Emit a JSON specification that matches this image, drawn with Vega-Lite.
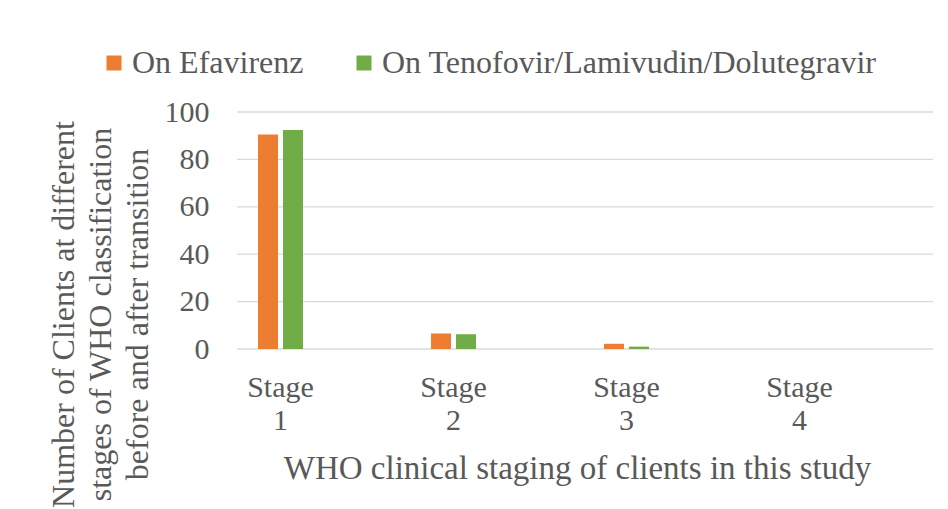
{
  "$schema": "https://vega.github.io/schema/vega-lite/v6.json",
  "width": 696,
  "height": 237,
  "autosize": "none",
  "padding": {"left": 237, "top": 112, "right": 15, "bottom": 160},
  "background": "white",
  "config": {
    "view": {"stroke": null},
    "font": "Liberation Serif",
    "style": {
      "guide-label": {"font": "Liberation Serif", "fill": "#595959"},
      "guide-title": {"font": "Liberation Serif", "fill": "#595959"}
    },
    "axis": {"labelFont": "Liberation Serif", "titleFont": "Liberation Serif", "labelColor": "#595959", "titleColor": "#595959", "titleFontWeight": "normal"},
    "legend": {"labelFont": "Liberation Serif", "titleFont": "Liberation Serif"}
  },
  "layer": [
    {
      "data": {"values": [{"g": 0}, {"g": 20}, {"g": 40}, {"g": 60}, {"g": 80}, {"g": 100}]},
      "mark": {"type": "rule", "color": "#D9D9D9", "strokeWidth": 1.3},
      "encoding": {
        "y": {"field": "g", "type": "quantitative"}
      }
    },
    {
      "data": {
        "values": [
          {"stage": "Stage 1", "group": "On Efavirenz", "value": 90.5},
          {"stage": "Stage 1", "group": "On Tenofovir/Lamivudin/Dolutegravir", "value": 92.4},
          {"stage": "Stage 2", "group": "On Efavirenz", "value": 6.5},
          {"stage": "Stage 2", "group": "On Tenofovir/Lamivudin/Dolutegravir", "value": 6.2},
          {"stage": "Stage 3", "group": "On Efavirenz", "value": 2.2},
          {"stage": "Stage 3", "group": "On Tenofovir/Lamivudin/Dolutegravir", "value": 1.0},
          {"stage": "Stage 4", "group": "On Efavirenz", "value": 0},
          {"stage": "Stage 4", "group": "On Tenofovir/Lamivudin/Dolutegravir", "value": 0}
        ]
      },
      "mark": {"type": "bar"},
      "encoding": {
        "x": {
          "field": "stage",
          "type": "nominal",
          "sort": ["Stage 1", "Stage 2", "Stage 3", "Stage 4"],
          "scale": {"range": [-43, 649], "paddingInner": 0.74, "paddingOuter": 0.37},
          "axis": {
            "title": "WHO clinical staging of clients in this study",
            "titleFont": "Liberation Serif",
            "titleFontSize": 33,
            "titleY": 119,
            "titleX": 340,
            "titleBaseline": "middle",
            "labelFont": "Liberation Serif",
            "labelFontSize": 30,
            "labelAngle": 0,
            "labelExpr": "split(datum.label, ' ')",
            "labelLineHeight": 33,
            "labelPadding": 23,
            "domain": false,
            "ticks": false,
            "grid": false
          }
        },
        "xOffset": {
          "field": "group",
          "type": "nominal",
          "scale": {"paddingInner": 0.2, "paddingOuter": 0}
        },
        "y": {
          "field": "value",
          "type": "quantitative",
          "scale": {"domain": [0, 100], "nice": false},
          "axis": {
            "values": [0, 20, 40, 60, 80, 100],
            "title": ["Number of Clients at different", "stages of WHO classification", "before and after transition"],
            "titleFont": "Liberation Serif",
            "titleFontSize": 32,
            "titleLineHeight": 37,
            "titleAngle": -90,
            "titleX": -174,
            "titleY": 202,
            "titleAlign": "center",
            "titleBaseline": "middle",
            "labelFont": "Liberation Serif",
            "labelFontSize": 30,
            "labelPadding": 28,
            "domain": false,
            "ticks": false,
            "grid": false
          }
        },
        "color": {
          "field": "group",
          "type": "nominal",
          "scale": {"domain": ["On Efavirenz", "On Tenofovir/Lamivudin/Dolutegravir"], "range": ["#ED7D31", "#70AD47"]},
          "legend": {
            "title": null,
            "orient": "none",
            "direction": "horizontal",
            "legendX": -139,
            "legendY": -65,
            "symbolType": "square",
            "symbolSize": 225,
            "symbolStrokeWidth": 0,
            "labelFont": "Liberation Serif",
            "labelFontSize": 32,
            "labelColor": "#595959",
            "labelOffset": 2,
            "columnPadding": 44,
            "labelLimit": 700
          }
        }
      }
    }
  ]
}
